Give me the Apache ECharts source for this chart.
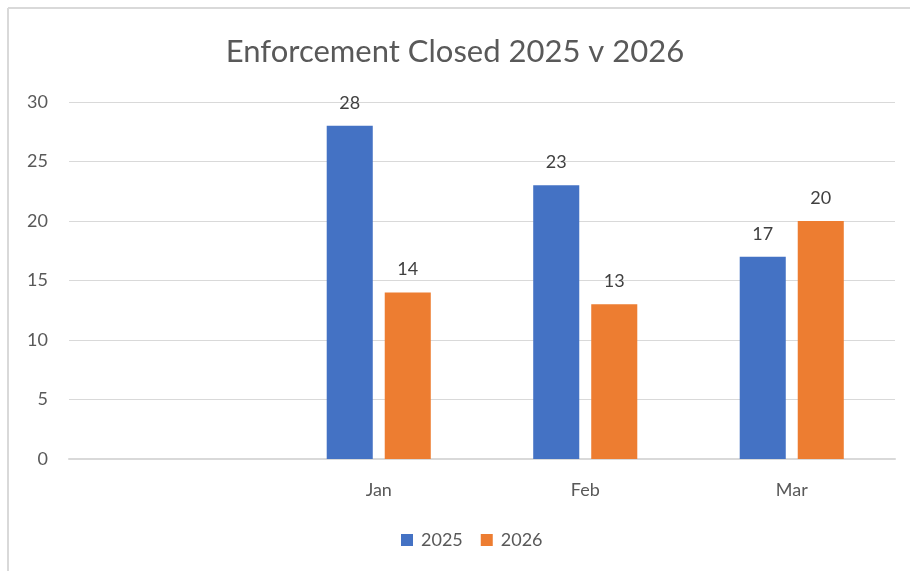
<!DOCTYPE html>
<html><head><meta charset="utf-8">
<script src="https://cdn.jsdelivr.net/npm/echarts@6/dist/echarts.min.js"></script>
<style>html,body{margin:0;padding:0;background:#fff}#c{width:910px;height:571px}</style>
</head><body><div id="c"></div>
<script>
const titleText = 'Enforcement Closed 2025 v 2026';
const categories = ['', 'Jan', 'Feb', 'Mar'];
const seriesNames = ['2025', '2026'];
const values2025 = [null, 28, 23, 17];
const values2026 = [null, 14, 13, 20];
const colors = ['#4472C4', '#ED7D31'];
const font = 'Lato, "Open Sans", sans-serif';

const chart = echarts.init(document.getElementById('c'), null, {renderer: 'canvas'});
const lbl = {show: true, position: 'top', distance: 14, color: '#404040', fontSize: 18, fontFamily: font};
chart.setOption({
  animation: false,
  graphic: [
    {type: 'line', shape: {x1: 8, y1: 8, x2: 8, y2: 571}, style: {stroke: '#d9d9d9', lineWidth: 2}},
    {type: 'line', shape: {x1: 8, y1: 8, x2: 910, y2: 8}, style: {stroke: '#d9d9d9', lineWidth: 2}}
  ],
  title: {text: titleText, left: 'center', top: 31,
    textStyle: {color: '#595959', fontSize: 31, fontWeight: 'normal', fontFamily: font}},
  legend: {data: seriesNames, top: 526, left: 396, itemWidth: 12, itemHeight: 12, itemGap: 18,
    icon: 'rect', textStyle: {color: '#595959', fontSize: 18, fontFamily: font, padding: [0, 0, 0, 3]}},
  grid: {left: 69, right: 15, top: 102, bottom: 112, containLabel: false},
  xAxis: {type: 'category', data: categories,
    axisLine: {lineStyle: {color: '#d9d9d9', width: 2}}, axisTick: {show: false},
    axisLabel: {color: '#595959', fontSize: 18, fontFamily: font, margin: 22}},
  yAxis: {type: 'value', min: 0, max: 30, interval: 5,
    axisLine: {show: false}, axisTick: {show: false},
    splitLine: {lineStyle: {color: '#d9d9d9', width: 1}},
    axisLabel: {color: '#595959', fontSize: 18, fontFamily: font, margin: 21}},
  series: [
    {name: seriesNames[0], type: 'bar', data: values2025, barWidth: '22.3%', barGap: '26%',
      itemStyle: {color: colors[0]}, label: lbl},
    {name: seriesNames[1], type: 'bar', data: values2026, barWidth: '22.3%',
      itemStyle: {color: colors[1]}, label: lbl}
  ]
});
</script></body></html>
